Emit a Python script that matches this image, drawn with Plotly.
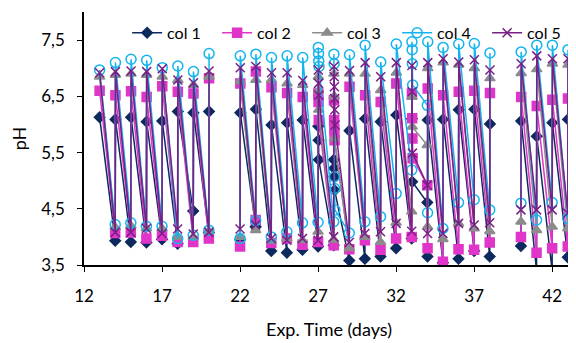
import plotly.graph_objects as go

# Readings per day: list of (day, [pH readings in measurement order])
col1 = [(13, [6.13]), (14, [3.93, 6.09]), (15, [3.91, 6.13]), (16, [3.90, 6.05]), (17, [3.96, 6.06]),
        (18, [3.88, 6.23]), (19, [4.46, 6.21]), (20, [4.08, 6.23]),
        (22, [3.95, 6.21]), (23, [4.18, 6.27]), (24, [3.75, 5.99]), (25, [3.72, 6.03]), (26, [3.77, 6.08]),
        (27, [3.83, 5.97, 5.72, 5.37]), (28, [3.85, 5.37, 5.22, 5.07, 4.83]),
        (29, [3.58, 5.89]), (30, [3.61, 6.10]), (31, [3.65, 6.05]), (32, [3.80, 6.17]),
        (33, [3.97, 6.10, 4.98]), (34, [4.61, 3.65, 6.08]), (35, [3.54, 6.09]), (36, [3.61, 6.26]),
        (37, [3.75, 6.27]), (38, [3.65, 6.01]),
        (40, [3.84, 6.06]), (41, [3.40, 5.79]), (42, [3.40, 6.03]), (43, [3.64, 6.09])]
col2 = [(13, [6.60]), (14, [4.07, 6.52]), (15, [4.08, 6.59]), (16, [3.97, 6.49]), (17, [4.02, 6.68]),
        (18, [3.91, 6.58]), (19, [3.91, 6.55]), (20, [3.97, 6.82]),
        (22, [3.83, 6.73]), (23, [4.30, 6.94]), (24, [3.89, 6.66]), (25, [3.97, 6.56]), (26, [3.86, 6.49]),
        (27, [3.91, 6.55, 6.40, 6.08]), (28, [3.85, 6.43, 6.08, 5.90, 5.72]),
        (29, [3.78, 6.67]), (30, [3.94, 6.52]), (31, [3.77, 6.40]), (32, [3.97, 6.73]),
        (33, [4.00, 6.55, 6.11, 5.75, 5.40]), (34, [4.92, 3.80, 6.64]), (35, [3.56, 6.52]), (36, [3.78, 6.58]),
        (37, [3.77, 6.60]), (38, [3.90, 6.56]),
        (40, [4.00, 6.49]), (41, [3.72, 6.33]), (42, [3.80, 6.44]), (43, [3.83, 6.46])]
col3 = [(13, [6.85]), (14, [4.17, 6.88]), (15, [4.20, 6.90]), (16, [4.15, 6.88]), (17, [4.15, 6.85]),
        (18, [4.00, 6.79]), (19, [4.00, 6.70]), (20, [4.10, 6.85]),
        (22, [4.00, 6.77]), (23, [4.12, 6.79]), (24, [3.93, 6.79]), (25, [3.97, 6.73]), (26, [3.94, 6.70]),
        (27, [4.09, 6.85, 6.60, 6.26]), (28, [3.95, 6.90, 6.50, 5.75]),
        (29, [3.80, 6.90]), (30, [4.00, 6.90]), (31, [3.91, 6.61]), (32, [4.25, 6.92]),
        (33, [4.45, 6.49, 5.96]), (34, [5.63, 4.18, 7.00]), (35, [3.96, 7.10]), (36, [4.24, 7.06]),
        (37, [4.15, 7.00]), (38, [4.10, 6.82]),
        (40, [4.27, 6.91]), (41, [4.12, 6.98]), (42, [4.18, 7.08]), (43, [4.15, 7.06])]
col4 = [(13, [6.97]), (14, [4.22, 7.10]), (15, [4.25, 7.16]), (16, [4.19, 7.14]), (17, [4.19, 7.01]),
        (18, [3.97, 7.04]), (19, [4.03, 6.94]), (20, [4.12, 7.26]),
        (22, [3.97, 7.22]), (23, [4.29, 7.25]), (24, [4.00, 7.19]), (25, [4.09, 7.22]), (26, [4.25, 7.19]),
        (27, [4.26, 7.37, 7.26, 7.13, 7.03]), (28, [4.27, 7.25, 7.08, 5.07, 4.86, 4.48]),
        (29, [4.07, 7.24]), (30, [4.27, 7.41]), (31, [4.36, 7.11]), (32, [4.77, 7.43]),
        (33, [5.19, 7.47, 7.33, 7.08, 6.70]), (34, [6.34, 4.43, 7.47]), (35, [4.15, 7.37]), (36, [4.61, 7.43]),
        (37, [4.66, 7.44]), (38, [4.48, 7.27]),
        (40, [4.60, 7.29]), (41, [4.30, 7.41]), (42, [4.61, 7.41]), (43, [4.33, 7.33])]
col5 = [(13, [6.92]), (14, [4.08, 6.94]), (15, [4.08, 6.95]), (16, [4.15, 6.94]), (17, [4.06, 6.99]),
        (18, [4.14, 6.79]), (19, [4.05, 6.74]), (20, [4.08, 6.95]),
        (22, [4.14, 7.01]), (23, [4.21, 7.03]), (24, [3.97, 6.92]), (25, [3.94, 6.92]), (26, [3.97, 6.78]),
        (27, [3.94, 6.97, 6.73, 6.52]), (28, [4.00, 7.03, 6.85, 6.67, 6.46, 6.26, 5.99]),
        (29, [3.90, 6.96]), (30, [4.06, 7.10]), (31, [4.09, 6.85]), (32, [4.24, 7.10]),
        (33, [4.10, 7.05, 6.58, 5.49]), (34, [4.92, 4.06, 7.10]), (35, [4.06, 7.17]), (36, [4.24, 7.11]),
        (37, [4.21, 7.15]), (38, [4.25, 6.97]),
        (40, [4.48, 7.08]), (41, [4.48, 7.22]), (42, [4.48, 7.17]), (43, [4.42, 7.17])]

names = ["col 1", "col 2", "col 3", "col 4", "col 5"]
colors = ["#0D2A5E", "#E035C8", "#8C8C8C", "#14B4EE", "#7A1F86"]
symbols = ["diamond", "square", "triangle-up", "circle-open", "x-thin-open"]
sizes = [8, 9, 9, 10, 9]
x_ticks = [12, 17, 22, 27, 32, 37, 42]
y_ticks = [3.5, 4.5, 5.5, 6.5, 7.5]


def expand(readings):
    xs, ys = [], []
    prev = None
    for day, vals in readings:
        if prev is not None and day - prev > 1:
            xs.append(None)
            ys.append(None)
        for i, v in enumerate(vals):
            xs.append(day + 0.015 * i)
            ys.append(v)
        prev = day
    return xs, ys


fig = go.Figure()
for data, name, c, s, sz in zip([col1, col2, col3, col4, col5], names, colors, symbols, sizes):
    xs, ys = expand(data)
    fig.add_trace(go.Scatter(
        x=xs, y=ys, name=name, mode="lines+markers", connectgaps=False,
        line=dict(color=c, width=1.5),
        marker=dict(symbol=s, size=sz, color=c, line=dict(color=c, width=1.5)),
    ))

# The page body has an 8px default margin, so the figure is sized to fit the window.
font_family = "Lato, 'Open Sans', sans-serif"
fig.update_layout(
    width=568, height=335,
    margin=dict(l=76, r=2, t=4, b=78, autoexpand=False),
    paper_bgcolor="white", plot_bgcolor="white",
    separators=",.",
    font=dict(family=font_family, size=17, color="black"),
    showlegend=True,
    legend=dict(orientation="h", x=0.088, y=0.985, xanchor="left", yanchor="top",
                bgcolor="rgba(0,0,0,0)", font=dict(size=16),
                entrywidth=45, entrywidthmode="pixels", itemwidth=30,
                tracegroupgap=0),
)
fig.update_xaxes(
    range=[12, 43.4], tickvals=x_ticks, showgrid=False, zeroline=False, automargin=False,
    showline=True, linecolor="black", linewidth=1.5, ticks="outside", ticklen=5,
    tickcolor="black", ticklabelstandoff=10, tickfont=dict(size=17),
    title=dict(text="Exp. Time (days)", font=dict(size=18), standoff=18),
)
fig.update_yaxes(
    range=[3.5, 8.0], tickvals=y_ticks, tickformat=".1f", showgrid=False, zeroline=False, automargin=False,
    showline=True, linecolor="black", linewidth=1.5, ticks="outside", ticklen=5,
    tickcolor="black", ticklabelstandoff=9, tickfont=dict(size=17),
    title=dict(text="pH", font=dict(size=18), standoff=14),
)
fig.write_html("out.html")
